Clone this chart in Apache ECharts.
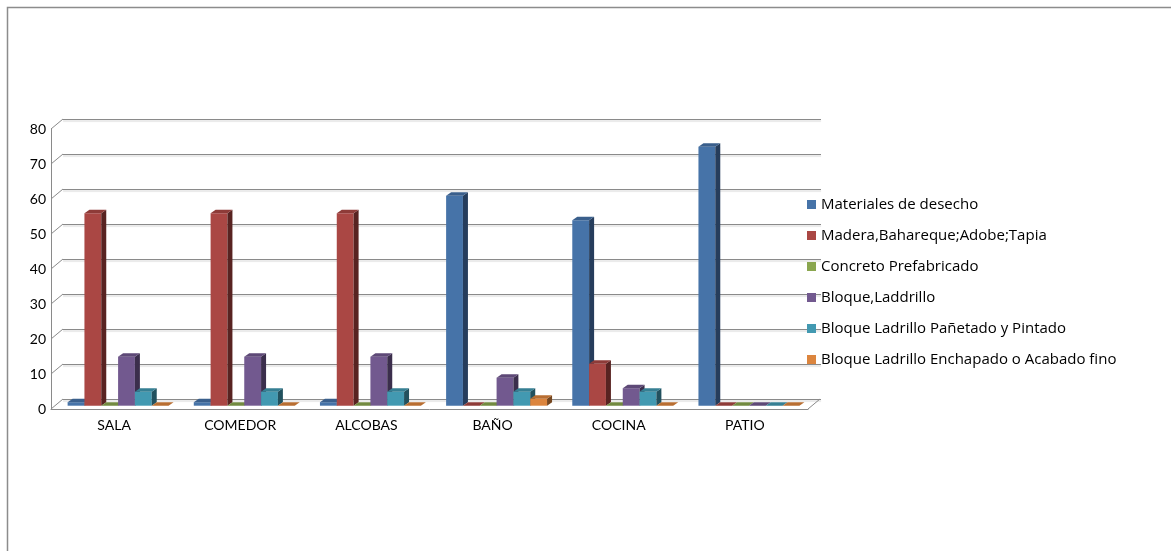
<!DOCTYPE html>
<html>
<head>
<meta charset="utf-8">
<script src="https://cdn.jsdelivr.net/npm/echarts@6/dist/echarts.min.js"></script>
<style>
  html, body { margin: 0; padding: 0; background: #fff; }
  #main { width: 1171px; height: 551px; }
</style>
</head>
<body>
<div id="main"></div>
<script>
// datos
var categorias = ['SALA', 'COMEDOR', 'ALCOBAS', 'BAÑO', 'COCINA', 'PATIO']
var yTicks = [0, 10, 20, 30, 40, 50, 60, 70, 80]

var desecho    = [1, 1, 1, 60, 53, 74]
var madera     = [55, 55, 55, 0, 12, 0]
var concreto   = [0, 0, 0, 0, 0, 0]
var bloque     = [14, 14, 14, 8, 5, 0]
var panetado   = [4, 4, 4, 4, 4, 0]
var enchapado  = [0, 0, 0, 2, 0, 0]

var nombres = [
  'Materiales de desecho',
  'Madera,Bahareque;Adobe;Tapia',
  'Concreto Prefabricado',
  'Bloque,Laddrillo',
  'Bloque Ladrillo Pañetado y Pintado',
  'Bloque Ladrillo Enchapado o Acabado fino'
]
var valores = [desecho, madera, concreto, bloque, panetado, enchapado]

// colores: frente, lado, tapa
var colores = [
  ['#4673A8', '#263D5C', '#3A5F8C'],
  ['#AA4744', '#582321', '#8E3B38'],
  ['#8AA64F', '#48592A', '#728A40'],
  ['#72598F', '#3B2E4C', '#5E4977'],
  ['#4299B1', '#22515E', '#367F93'],
  ['#DC853E', '#75461F', '#B86E32']
]

var FONT = 'Lato'
// profundidad de la pared (px)
var WX = 12, WY = 10
// profundidad de la barra
var BX = 5, BY = 3.5
// posicion de las barras dentro del piso
var OX = 4, OY = 3.3

var chart = echarts.init(document.getElementById('main'))

function barra(idx) {
  return function (params, api) {
    var cat = api.value(0)
    var val = api.value(1)
    var base = api.coord([cat, 0])
    var top = api.coord([cat, val])
    var banda = api.size([1, 0])[0]
    var w = banda * 0.8 / 6
    var x0 = base[0] - banda * 0.4 + idx * w + OX
    var yb = base[1] - OY
    var yt = top[1] - OY
    var c = colores[idx]
    var kids = []
    if (yb - yt > 0.3) {
      kids.push({ type: 'rect', shape: { x: x0, y: yt, width: w, height: yb - yt }, style: { fill: c[0] } })
      kids.push({ type: 'polygon', shape: { points: [[x0 + w, yt], [x0 + w + BX, yt - BY], [x0 + w + BX, yb - BY], [x0 + w, yb]] }, style: { fill: c[1] } })
    }
    kids.push({ type: 'polygon', shape: { points: [[x0, yt], [x0 + BX, yt - BY], [x0 + w + BX, yt - BY], [x0 + w, yt]] }, style: { fill: c[2] } })
    return { type: 'group', children: kids }
  }
}

// paredes y piso
function marco(params, api) {
  var cs = params.coordSys
  var v = api.value(0)
  var p = api.coord([0, v])
  var kids = [{
    type: 'line',
    shape: { x1: cs.x, y1: p[1], x2: cs.x + WX, y2: p[1] - WY },
    style: { stroke: '#8a8a8a', lineWidth: 1 }
  }]
  if (v === 0) {
    kids.push({
      type: 'line',
      shape: { x1: cs.x + cs.width, y1: p[1], x2: cs.x + cs.width + WX, y2: p[1] - WY },
      style: { stroke: '#8a8a8a', lineWidth: 1 }
    })
  }
  return { type: 'group', children: kids }
}

var series = [{
  type: 'custom',
  xAxisIndex: 0, yAxisIndex: 0,
  renderItem: marco,
  data: yTicks.map(function (t) { return [t] }),
  encode: { y: 0 },
  silent: true,
  z: 1
}]

valores.forEach(function (arr, i) {
  series.push({
    name: nombres[i],
    type: 'custom',
    xAxisIndex: 0, yAxisIndex: 0,
    renderItem: barra(i),
    itemStyle: { color: colores[i][0] },
    data: arr.map(function (v, k) { return [k, v] }),
    encode: { x: 0, y: 1 },
    z: 3
  })
})

var option = {
  backgroundColor: '#fff',
  animation: false,
  graphic: [{
    type: 'rect',
    shape: { x: 7.5, y: 7.5, width: 1300, height: 700 },
    style: { fill: 'none', stroke: '#8c8c8c', lineWidth: 1.5 },
    silent: true
  }],
  legend: {
    orient: 'vertical',
    left: 802,
    top: 192,
    icon: 'rect',
    itemWidth: 9,
    itemHeight: 9,
    itemGap: 16,
    textStyle: { fontFamily: 'Open Sans', fontSize: 15, color: '#000', lineHeight: 15 },
    data: nombres
  },
  grid: [
    { left: 51, top: 129, width: 757, height: 280 },   // plano frontal
    { left: 63, top: 119, width: 758, height: 280 }    // pared del fondo
  ],
  xAxis: [{
    type: 'category',
    gridIndex: 0,
    data: categorias,
    axisLine: { lineStyle: { color: '#8a8a8a' } },
    axisTick: { show: false },
    axisLabel: { fontFamily: FONT, fontSize: 14, color: '#000', margin: 9 }
  }, {
    type: 'category',
    gridIndex: 1,
    data: categorias,
    show: false
  }],
  yAxis: [{
    type: 'value',
    gridIndex: 0,
    min: 0, max: 80, interval: 10,
    axisLine: { show: true, lineStyle: { color: '#8a8a8a' } },
    axisTick: { show: false },
    splitLine: { show: false },
    axisLabel: { fontFamily: FONT, fontSize: 14, color: '#000', margin: 5 }
  }, {
    type: 'value',
    gridIndex: 1,
    min: 0, max: 80, interval: 10,
    axisLine: { show: false },
    axisTick: { show: false },
    axisLabel: { show: false },
    splitLine: {
      lineStyle: {
        color: '#8a8a8a', width: 1,
        shadowColor: 'rgba(0,0,0,0.18)', shadowOffsetY: 1.5, shadowBlur: 1
      }
    }
  }],
  series: series
}

chart.setOption(option)
</script>
</body>
</html>
